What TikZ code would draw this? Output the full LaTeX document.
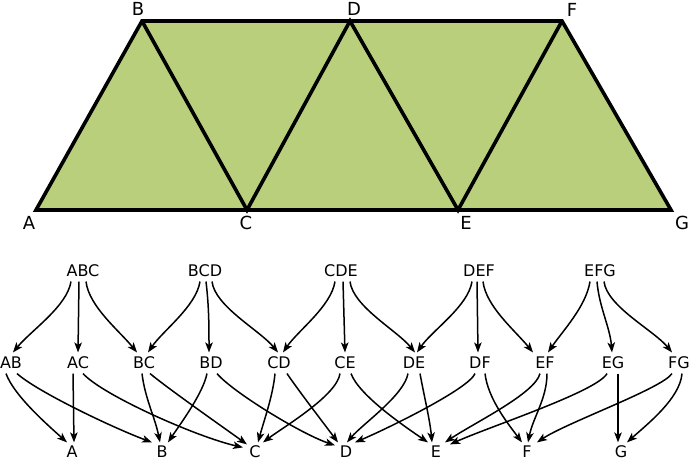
\documentclass[tikz,border=0pt]{standalone}
\usepackage{fontspec}
\newfontfamily\dvs{DejaVu Sans}
\usetikzlibrary{arrows.meta}
\definecolor{trifill}{RGB}{185,207,124}
\tikzset{
 gn/.style={font=\dvs\fontsize{16}{19}\selectfont, inner xsep=2pt, inner ysep=4.5pt, text height=11.7pt, text depth=0pt},
 bn/.style={font=\dvs\fontsize{16}{19}\selectfont, inner xsep=2pt, inner ysep=0pt, text height=14.4pt, text depth=0pt, anchor=base},
 vl/.style={font=\dvs\fontsize{18}{21}\selectfont, inner sep=0pt, text height=13.1pt, text depth=0pt},
 ed/.style={line width=1.5pt, -{Stealth[length=10pt,width=7.5pt,inset=2.5pt]}},
 triline/.style={line width=3.6pt, line join=miter}
}
\begin{document}
\begin{tikzpicture}[x=1pt,y=-1pt]
\useasboundingbox (0,0) rectangle (690,460);
% triangle strip
\coordinate (vA) at (36,210);
\coordinate (vB) at (142,21);
\coordinate (vC) at (247,210);
\coordinate (vD) at (350,21);
\coordinate (vE) at (458,210);
\coordinate (vF) at (562,21);
\coordinate (vG) at (671,210);
\fill[trifill] (vA)--(vB)--(vF)--(vG)--cycle;
\draw[triline] (vA)--(vB)--(vF)--(vG)--cycle;
\draw[triline] (vB)--(vC)--(vD)--(vE)--(vF);
\node[vl] (lA) at (29,223) {A};
\node[vl] (lB) at (138,9) {B};
\node[vl] (lC) at (246,223) {C};
\node[vl] (lD) at (354,9) {D};
\node[vl] (lE) at (466,223) {E};
\node[vl] (lF) at (572,10) {F};
\node[vl] (lG) at (682,223) {G};
% graph nodes
\node[gn] (ABC) at (83,271) {ABC};
\node[gn] (BCD) at (205,271) {BCD};
\node[gn] (CDE) at (341,271) {CDE};
\node[gn] (DEF) at (479,271) {DEF};
\node[gn] (EFG) at (600,271) {EFG};
\node[gn] (AB) at (11,363) {AB};
\node[gn] (AC) at (78,363) {AC};
\node[gn] (BC) at (144,363) {BC};
\node[gn] (BD) at (211,363) {BD};
\node[gn] (CD) at (279,363) {CD};
\node[gn] (CE) at (345,363) {CE};
\node[gn] (DE) at (414,363) {DE};
\node[gn] (DF) at (480,363) {DF};
\node[gn] (EF) at (545,363) {EF};
\node[gn] (EG) at (613,363) {EG};
\node[gn] (FG) at (679,363) {FG};
\node[bn] (A) at (72,457) {A};
\node[bn] (B) at (162,457) {B};
\node[bn] (C) at (255,457) {C};
\node[bn] (D) at (346,457) {D};
\node[bn] (E) at (436,457) {E};
\node[bn] (F) at (527,457) {F};
\node[bn] (G) at (621,457) {G};
% top edges
\draw[ed] ([shift={(-12,0)}]ABC.south) .. controls +(-4,25) and +(18,-22) .. ([shift={(2,0)}]AB.north);
\draw[ed] ([shift={(-4,0)}]ABC.south) -- (AC.north);
\draw[ed] ([shift={(3,0)}]ABC.south) .. controls +(3,25) and +(-18,-22) .. ([shift={(-7,0)}]BC.north);
\draw[ed] ([shift={(-5,0)}]BCD.south) .. controls +(-4,25) and +(15,-22) .. ([shift={(4,0)}]BC.north);
\draw[ed] ([shift={(1,0)}]BCD.south) .. controls +(3,25) and +(0,-25) .. ([shift={(-2,0)}]BD.north);
\draw[ed] ([shift={(7,0)}]BCD.south) .. controls +(3,25) and +(-18,-22) .. ([shift={(-1,0)}]CD.north);
\draw[ed] ([shift={(-6,0)}]CDE.south) .. controls +(-4,25) and +(15,-22) .. ([shift={(4,0)}]CD.north);
\draw[ed] ([shift={(2,0)}]CDE.south) -- (CE.north);
\draw[ed] ([shift={(9,0)}]CDE.south) .. controls +(3,25) and +(-18,-22) .. ([shift={(1,0)}]DE.north);
\draw[ed] ([shift={(-7,0)}]DEF.south) .. controls +(-4,25) and +(15,-22) .. ([shift={(3,0)}]DE.north);
\draw[ed] ([shift={(-2,0)}]DEF.south) -- ([shift={(-2,0)}]DF.north);
\draw[ed] ([shift={(4,0)}]DEF.south) .. controls +(3,25) and +(-18,-22) .. ([shift={(-12,0)}]EF.north);
\draw[ed] ([shift={(-10,0)}]EFG.south) .. controls +(-4,25) and +(15,-22) .. ([shift={(3,0)}]EF.north);
\draw[ed] ([shift={(-3,0)}]EFG.south) .. controls +(2,25) and +(-2,-25) .. ([shift={(-1,0)}]EG.north);
\draw[ed] ([shift={(4,0)}]EFG.south) .. controls +(3,25) and +(-18,-22) .. ([shift={(-7,0)}]FG.north);
% bottom edges
\draw[ed] ([shift={(-5,0)}]AB.south) .. controls +(8,22) and +(-20,-18) .. ([shift={(-5,0)}]A.north);
\draw[ed] ([shift={(6,0)}]AB.south) .. controls +(20,18) and +(-40,-15) .. ([shift={(-10,0)}]B.north);
\draw[ed] ([shift={(-5,0)}]AC.south) -- ([shift={(2,0)}]A.north);
\draw[ed] ([shift={(5,0)}]AC.south) .. controls +(20,22) and +(-45,-10) .. ([shift={(-12,5)}]C.north);
\draw[ed] ([shift={(-2,0)}]BC.south) .. controls +(3,25) and +(-5,-25) .. ([shift={(-2,0)}]B.north);
\draw[ed] ([shift={(6,0)}]BC.south) .. controls +(18,15) and +(-25,-18) .. ([shift={(-8,2)}]C.north);
\draw[ed] ([shift={(-4,0)}]BD.south) .. controls +(-4,20) and +(12,-18) .. ([shift={(6,0)}]B.north);
\draw[ed] ([shift={(6,0)}]BD.south) .. controls +(15,18) and +(-35,-12) .. ([shift={(-11,3)}]D.north);
\draw[ed] ([shift={(-4,0)}]CD.south) .. controls +(-2,22) and +(6,-22) .. ([shift={(3,0)}]C.north);
\draw[ed] ([shift={(8,0)}]CD.south) .. controls +(10,15) and +(-15,-20) .. ([shift={(-8,0)}]D.north);
\draw[ed] ([shift={(-5,0)}]CE.south) .. controls +(-3,22) and +(20,-15) .. ([shift={(8,0)}]C.north);
\draw[ed] ([shift={(6,0)}]CE.south) .. controls +(8,22) and +(-22,-15) .. ([shift={(-8,0)}]E.north);
\draw[ed] ([shift={(-6,0)}]DE.south) .. controls +(-4,22) and +(15,-18) .. ([shift={(1,0)}]D.north);
\draw[ed] ([shift={(6,0)}]DE.south) .. controls +(4,22) and +(-2,-22) .. ([shift={(-4,0)}]E.north);
\draw[ed] ([shift={(-5,0)}]DF.south) .. controls +(-6,15) and +(35,-15) .. ([shift={(9,0)}]D.north);
\draw[ed] ([shift={(5,0)}]DF.south) .. controls +(3,25) and +(-15,-20) .. ([shift={(-5,0)}]F.north);
\draw[ed] ([shift={(-5,0)}]EF.south) .. controls +(-5,20) and +(30,-20) .. ([shift={(9,0)}]E.north);
\draw[ed] ([shift={(2,0)}]EF.south) .. controls +(0,25) and +(5,-25) .. ([shift={(1,0)}]F.north);
\draw[ed] ([shift={(-6,0)}]EG.south) .. controls +(-10,18) and +(40,-18) .. ([shift={(14,2)}]E.north);
\draw[ed] ([shift={(5,0)}]EG.south) -- ([shift={(-3,0)}]G.north);
\draw[ed] ([shift={(-7,0)}]FG.south) .. controls +(-10,15) and +(30,-20) .. ([shift={(10,0)}]F.north);
\draw[ed] ([shift={(3,0)}]FG.south) .. controls +(-2,25) and +(20,-18) .. ([shift={(6,0)}]G.north);
\end{tikzpicture}
\end{document}
